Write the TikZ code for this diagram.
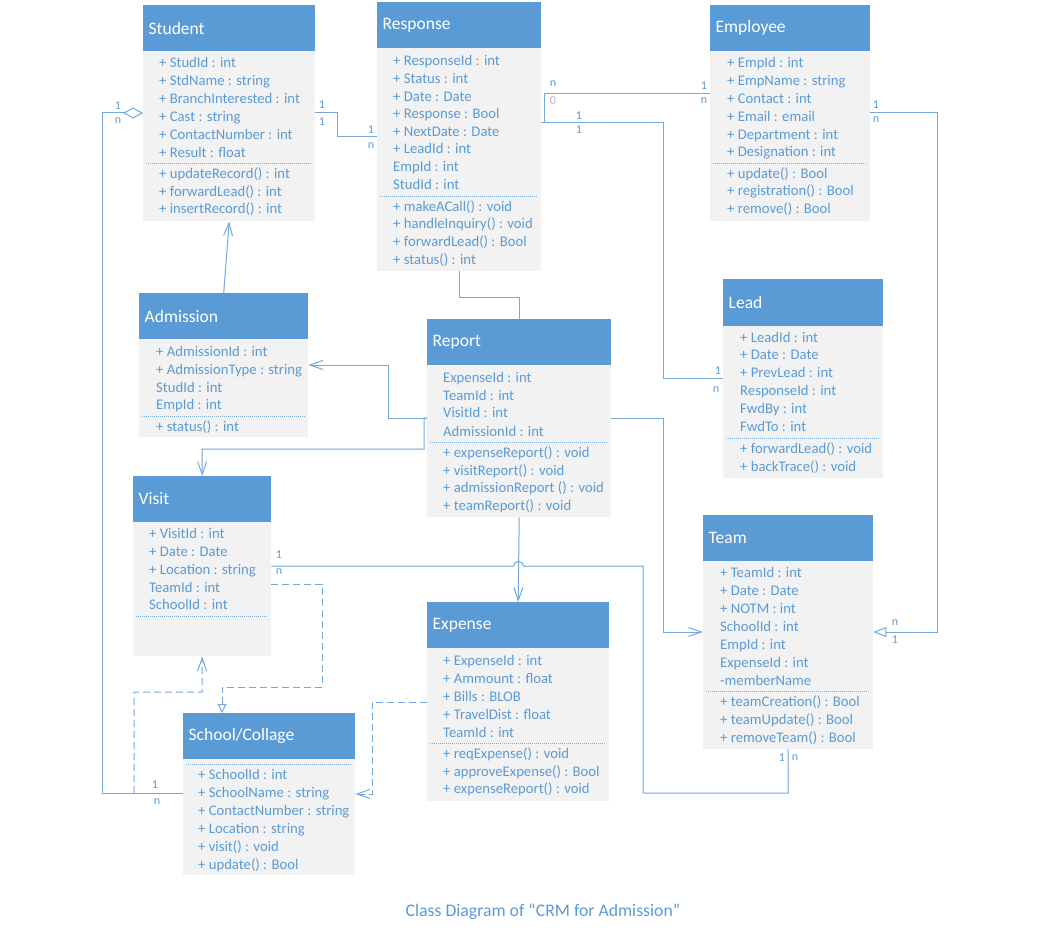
\documentclass[tikz,border=0pt]{standalone}
\usepackage{fontspec}
\setmainfont{Carlito}
\usetikzlibrary{arrows.meta}
\definecolor{headblue}{HTML}{5B9BD5}
\definecolor{bodygray}{HTML}{F2F2F2}
\definecolor{txtblue}{HTML}{5B9BD5}
\definecolor{lineblue}{HTML}{74A9DE}
\definecolor{zeropink}{HTML}{C9A6BC}
\tikzset{
  classbody/.style={draw=none, fill=bodygray, anchor=north west, inner sep=0pt},
  classhead/.style={draw=none, fill=headblue, anchor=north west, inner sep=0pt},
  classtitle/.style={anchor=west, inner sep=0pt, text=white, font=\fontsize{17.5}{20}\selectfont},
  attr/.style={anchor=base west, inner sep=0pt, text=txtblue, font=\fontsize{14.7}{17}\selectfont},
  sepline/.style={draw=txtblue!80, line width=0.8pt, dash pattern=on 1pt off 1pt},
  mult/.style={inner sep=0pt, text=txtblue, font=\fontsize{12}{14}\selectfont},
  conn/.style={draw=lineblue, line width=1pt},
  dashconn/.style={conn, dash pattern=on 7pt off 4pt},
  barb/.style={-{Straight Barb[length=13pt,width=9pt]}},
  tri/.style={-{Triangle[open,fill=white,length=13pt,width=10pt]}},
  smalltri/.style={-{Triangle[open,length=9pt,width=9pt]}},
  diam/.style={-{Diamond[open,fill=white,length=20pt,width=11pt]}},
  captionstyle/.style={inner sep=0pt, text=txtblue, font=\fontsize{17.7}{20}\selectfont}
}
\newcommand{\umlclass}[7]{%
  \node[classbody, minimum width={(#3-#2)*1pt}, minimum height={(#6-#4)*1pt}] (#1) at (#2,#4) {};
  \node[classhead, minimum width={(#3-#2)*1pt}, minimum height={(#5-#4)*1pt}] (#1head) at (#2,#4) {};
  \node[classtitle] (#1title) at ({#2+5.5},{(#4+#5)/2}) {#7};
}
\newcommand{\rows}[3]{%
  \foreach \yy/\tt [count=\i] in {#3} {\node[attr] (#1-\i) at (#2,{\yy+4.7}) {\tt};}
}
\begin{document}
\begin{tikzpicture}[x=1pt,y=-1pt]
\fill[white] (0,0) rectangle (1039,933);
\useasboundingbox (0,0) rectangle (1039,933);

% Student
\umlclass{student}{143}{315}{5}{51}{221}{Student}
\rows{student}{159}{63/{+ StudId : int},81/{+ StdName : string},99/{+ BranchInterested : int},117/{+ Cast : string},135/{+ ContactNumber : int},153/{+ Result : float},174/{+ updateRecord() : int},192/{+ forwardLead() : int},209/{+ insertRecord() : int}}
\draw[sepline] (146,163) -- (312,163);

% Response
\umlclass{response}{377}{541}{2}{48}{271}{Response}
\rows{response}{393}{61/{+ ResponseId : int},79/{+ Status : int},97/{+ Date : Date},114/{+ Response : Bool},132/{+ NextDate : Date},149/{+ LeadId : int},167/{EmpId : int},185/{StudId : int},207/{+ makeACall() : void},224/{+ handleInquiry() : void},242/{+ forwardLead() : Bool},260/{+ status() : int}}
\draw[sepline] (380,196) -- (538,196);

% Employee
\umlclass{employee}{710}{870}{5}{51}{221}{Employee}
\rows{employee}{727}{63/{+ EmpId : int},81/{+ EmpName : string},99/{+ Contact : int},117/{+ Email : email},135/{+ Department : int},152/{+ Designation : int},174/{+ update() : Bool},191/{+ registration() : Bool},209/{+ remove() : Bool}}
\draw[sepline] (713,163) -- (867,163);

% Lead
\umlclass{lead}{723}{883}{279}{326}{478}{Lead}
\rows{lead}{740}{338/{+ LeadId : int},355/{+ Date : Date},373/{+ PrevLead : int},391/{ResponseId : int},409/{FwdBy : int},427/{FwdTo : int},449/{+ forwardLead() : void},467/{+ backTrace() : void}}
\draw[sepline] (726,438) -- (880,438);

% Admission
\umlclass{admission}{139}{308}{293}{339}{437}{Admission}
\rows{admission}{156}{352/{+ AdmissionId : int},370/{+ AdmissionType : string},388/{StudId : int},405/{EmpId : int},427/{+ status() : int}}
\draw[sepline] (142,416) -- (305,416);

% Report
\umlclass{report}{427}{611}{319}{365}{517}{Report}
\rows{report}{443}{378/{ExpenseId : int},396/{TeamId : int},413/{VisitId : int},432/{AdmissionId : int},453/{+ expenseReport() : void},471/{+ visitReport() : void},488/{+ admissionReport () : void},506/{+ teamReport() : void}}
\draw[sepline] (430,442) -- (608,442);

% Visit
\umlclass{visit}{133}{271}{476}{522}{656}{Visit}
\rows{visit}{149}{534/{+ VisitId : int},552/{+ Date : Date},570/{+ Location : string},588/{TeamId : int},605/{SchoolId : int}}
\draw[sepline] (136,616) -- (268,616);

% Team
\umlclass{team}{703}{873}{515}{561}{749}{Team}
\rows{team}{720}{573/{+ TeamId : int},591/{+ Date : Date},609/{+ NOTM : int},627/{SchoolId : int},645/{EmpId : int},663/{ExpenseId : int},681/{-memberName},702/{+ teamCreation() : Bool},720/{+ teamUpdate() : Bool},738/{+ removeTeam() : Bool}}
\draw[sepline] (706,691) -- (870,691);

% Expense
\umlclass{expense}{427}{609}{602}{648}{801}{Expense}
\rows{expense}{443}{661/{+ ExpenseId : int},679/{+ Ammount : float},697/{+ Bills : BLOB},715/{+ TravelDist : float},733/{TeamId : int},754/{+ reqExpense() : void},772/{+ approveExpense() : Bool},789/{+ expenseReport() : void}}
\draw[sepline] (430,743) -- (606,743);

% School/Collage
\umlclass{school}{183}{355}{713}{759}{875}{School/Collage}
\rows{school}{198}{775/{+ SchoolId : int},793/{+ SchoolName : string},811/{+ ContactNumber : string},829/{+ Location : string},847/{+ visit() : void},865/{+ update() : Bool}}
\draw[sepline] (186,764) -- (352,764);

% ---- connectors ----
% Student - Response
\draw[conn] (student.east |- 0,113) -- (337,113) -- (337,137) -- (response.west |- 0,137);
% Employee - Response
\coordinate (empjoin) at (544,123);
\draw[conn] (employee.west |- 0,94) -- (544,94) -- (empjoin);
% Response - Lead
\draw[conn] (response.east |- 0,123) -- (663,123) -- (663,378) -- (lead.west |- 0,378);
% Employee - Team
\draw[conn, tri] (employee.east |- 0,113) -- (937,113) -- (937,632) -- (team.east |- 0,632);
% Admission - Student
\draw[conn, barb] (admission.north) -- (student.south);
% Response - Report
\draw[conn] (response.south) -- (response.south |- 0,298) -| (report.north);
% Report - Admission
\draw[conn, barb] (report.west |- 0,418) -- (388,418) -- (388,365) -- (admission.east |- 0,365);
% Report - Visit
\draw[conn, barb] (report.west |- 0,418) -- ++(-3,0) |- (202,449) -- (visit.north);
% Report - Team
\draw[conn, barb] (report.east |- 0,418) -- (663,418) -- (663,632) -- (team.west |- 0,632);
% Report - Expense
\draw[conn, barb] (report.south) -- (expense.north);
% Visit - Team (with hop)
\draw[conn] (visit.east |- 0,566) -- (513.5,566) .. controls (513.5,560) and (523.5,560) .. (523.5,566) -- (643,566) -- (643,793) -- (788,793) -- (team.south);
% Visit - School (dashed, realization)
\draw[dashconn, smalltri] (visit.east |- 0,584) -- (322,584) -- (322,687) -- (222,687) -- (school.north -| 222,0);
% School - Visit (dashed dependency)
\coordinate (dstart) at (134,793);
\draw[dashconn, barb] (dstart) -- (134,692) -- (202,692) -- (visit.south);
% School - Student (aggregation)
\draw[conn, diam] (school.west |- 0,793) -- (102,793) -- (102,113) -- (student.west |- 0,113);
% Expense - School (dashed)
\draw[dashconn, barb] (expense.west |- 0,702) -- (372,702) -- (372,794) -- (school.east |- 0,794);

% ---- multiplicities ----
\node[mult] (m1) at (322,105) {1};
\node[mult] (m2) at (322,122) {1};
\node[mult] (m3) at (371,130) {1};
\node[mult] (m4) at (371,146) {n};
\node[mult] (m5) at (118,106) {1};
\node[mult] (m6) at (118,121) {n};
\node[mult] (m7) at (155,785) {1};
\node[mult] (m8) at (157,802) {n};
\node[mult] (m9) at (553,84) {n};
\node[mult, text=zeropink] (m10) at (553,101) {0};
\node[mult] (m11) at (704,86) {1};
\node[mult] (m12) at (704,101) {n};
\node[mult] (m13) at (579,116) {1};
\node[mult] (m14) at (579,130) {1};
\node[mult] (m15) at (718,371) {1};
\node[mult] (m16) at (716,390) {n};
\node[mult] (m17) at (876,105) {1};
\node[mult] (m18) at (876,120) {n};
\node[mult] (m19) at (895,623) {n};
\node[mult] (m20) at (895,640) {1};
\node[mult] (m21) at (279,555) {1};
\node[mult] (m22) at (279,572) {n};
\node[mult] (m23) at (782,758) {1};
\node[mult] (m24) at (795,758) {n};

% caption
\node[captionstyle] (caption) at (543,912) {Class Diagram of “CRM for Admission”};
\end{tikzpicture}
\end{document}
